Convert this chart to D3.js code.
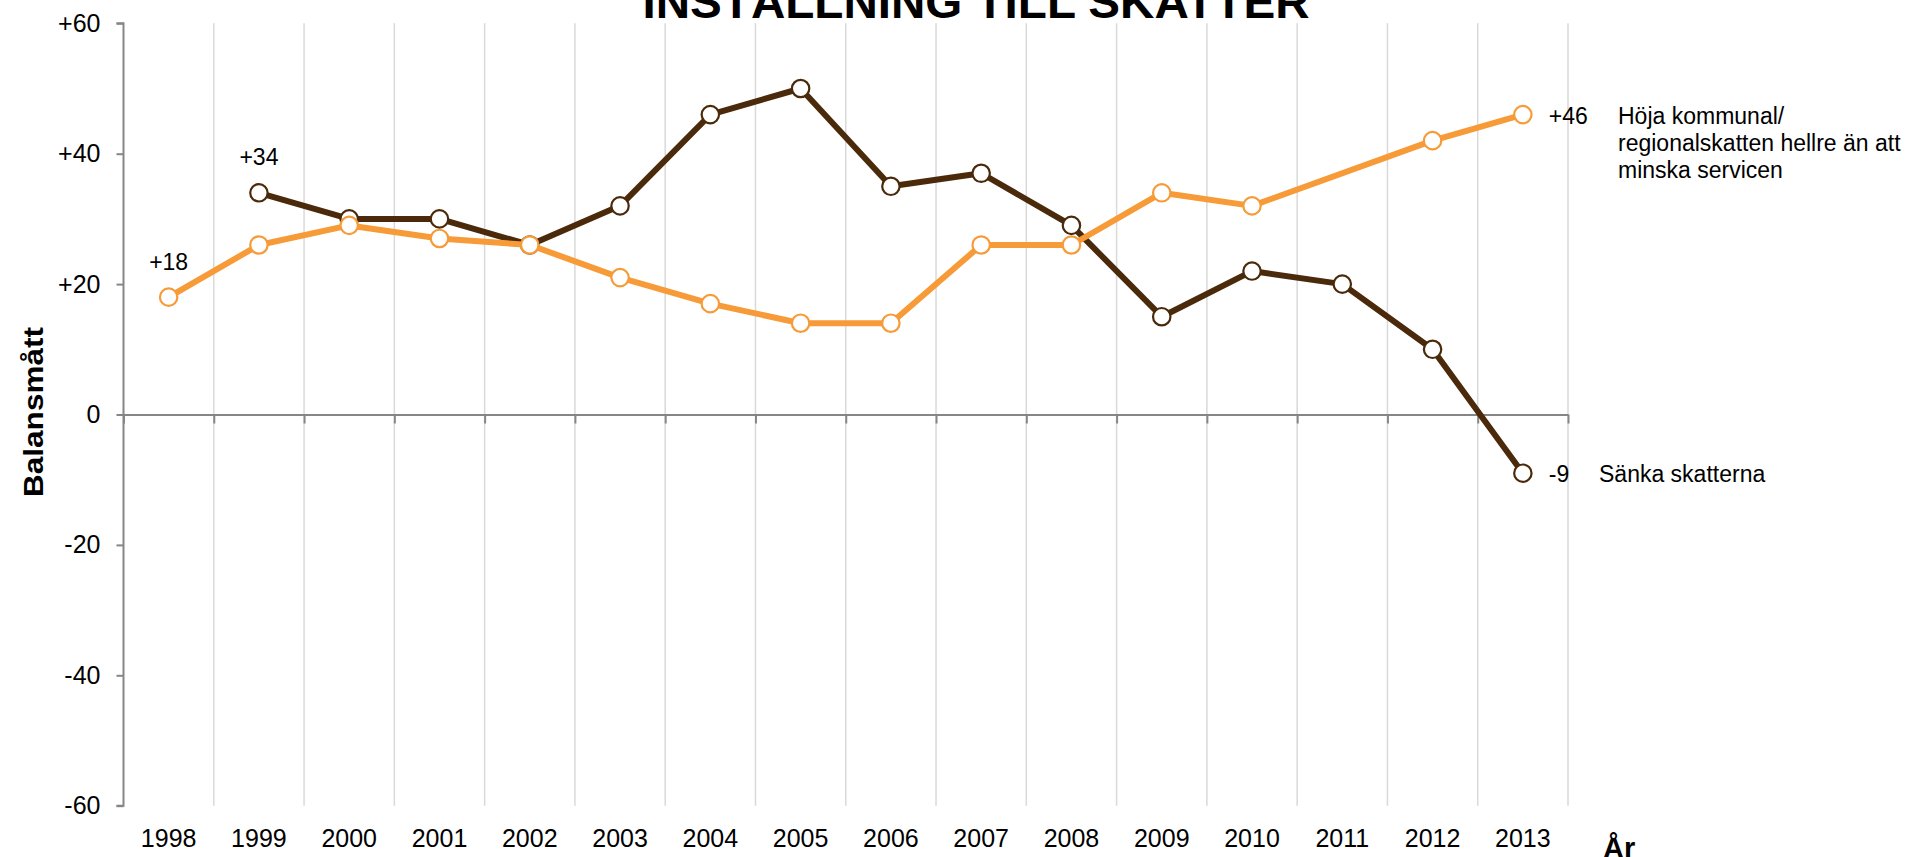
<!DOCTYPE html>
<html>
<head>
<meta charset="utf-8">
<script src="https://cdn.jsdelivr.net/npm/d3@7"></script>
<style>
html,body{margin:0;padding:0;background:#fff;overflow:hidden;}
svg{display:block;font-family:"Liberation Sans",Arial,sans-serif;}
</style>
</head>
<body>
<svg id="chart" width="1917" height="857"></svg>
<script>
const years = ["1998","1999","2000","2001","2002","2003","2004","2005","2006","2007","2008","2009","2010","2011","2012","2013"];
const sankaSkatter = [null,34,30,30,26,32,46,50,35,37,29,15,22,20,10,-9];
const hojaSkatt = [18,26,29,27,26,21,17,14,14,26,26,34,32,null,42,46];
const yTicks = [-60,-40,-20,0,20,40,60];
const titleText = "INSTÄLLNING TILL SKATTER";
const yTitle = "Balansmått";
const xTitle = "År";
const labelHoja = ["Höja kommunal/","regionalskatten hellre än att","minska servicen"];
const labelSanka = "Sänka skatterna";

const ORANGE = "#F79B38", BROWN = "#4A2A0B", AXIS = "#868686", GRID = "#D9D9D9";
const fmt = d => d > 0 ? "+" + d : String(d);

const svg = d3.select("#chart");
const pL = 123.5, pR = 1568, pT = 23.3, pB = 805.7;

const x = d3.scaleBand().domain(years).range([pL, pR]).paddingInner(0).paddingOuter(0);
const xb = d3.scaleLinear().domain([0, years.length]).range([pL, pR]);
const y = d3.scaleLinear().domain([-60, 60]).range([pB, pT]);
const cx = d => x(d) + x.bandwidth() / 2;

// vertical gridlines at category boundaries
svg.append("g")
  .selectAll("line")
  .data(d3.range(1, years.length + 1))
  .join("line")
  .attr("x1", d => xb(d)).attr("x2", d => xb(d))
  .attr("y1", pT).attr("y2", pB)
  .attr("stroke", GRID).attr("stroke-width", 1.5);

// y axis
const yAxis = svg.append("g").attr("transform", `translate(${pL},0)`)
  .call(d3.axisLeft(y).tickValues(yTicks).tickFormat(fmt).tickSize(7).tickPadding(16));
yAxis.selectAll("path,line").attr("stroke", AXIS).attr("stroke-width", 2);
yAxis.select(".domain").attr("d", `M-7,${pT}H0V${pB}H-7`);
yAxis.selectAll("text").attr("font-size", 25).attr("fill", "#000")
  .attr("font-family", "'Liberation Sans',Arial,sans-serif");

// zero line with boundary ticks
const zeroAxis = svg.append("g").attr("transform", `translate(0,${y(0)})`)
  .call(d3.axisBottom(xb).tickValues(d3.range(0, years.length + 1)).tickFormat("").tickSize(9).tickSizeOuter(0));
zeroAxis.selectAll("path,line").attr("stroke", AXIS).attr("stroke-width", 2);

// category labels at bottom
const xAxis = svg.append("g").attr("transform", `translate(0,${pB})`)
  .call(d3.axisBottom(x).tickSize(0).tickPadding(23.5));
xAxis.select(".domain").remove();
xAxis.selectAll("text").attr("font-size", 25).attr("fill", "#000")
  .attr("font-family", "'Liberation Sans',Arial,sans-serif");

// series
function drawSeries(values, color) {
  const pts = years.map((yr, i) => ({yr, v: values[i]})).filter(d => d.v !== null);
  const line = d3.line().x(d => cx(d.yr)).y(d => y(d.v));
  svg.append("path").datum(pts).attr("d", line)
    .attr("fill", "none").attr("stroke", color).attr("stroke-width", 6)
    .attr("stroke-linejoin", "round");
  svg.append("g").selectAll("circle").data(pts).join("circle")
    .attr("cx", d => cx(d.yr)).attr("cy", d => y(d.v)).attr("r", 8.7)
    .attr("fill", "#fff").attr("stroke", color).attr("stroke-width", 2.2);
  return pts;
}
const brownPts = drawSeries(sankaSkatter, BROWN);
const orangePts = drawSeries(hojaSkatt, ORANGE);

// value labels
const lab = svg.append("g").attr("font-size", 23).attr("fill", "#000");
const firstO = orangePts[0], firstB = brownPts[0];
lab.append("text").attr("x", cx(firstO.yr)).attr("y", y(firstO.v) - 27).attr("text-anchor", "middle").text(fmt(firstO.v));
lab.append("text").attr("x", cx(firstB.yr)).attr("y", y(firstB.v) - 28).attr("text-anchor", "middle").text(fmt(firstB.v));
const lastO = orangePts[orangePts.length - 1], lastB = brownPts[brownPts.length - 1];
lab.append("text").attr("x", cx(lastO.yr) + 26).attr("y", y(lastO.v) + 9).text(fmt(lastO.v));
lab.append("text").attr("x", cx(lastB.yr) + 26).attr("y", y(lastB.v) + 9).text(fmt(lastB.v));

// series names
const hoja = lab.append("text").attr("x", 1618).attr("y", y(lastO.v) + 9);
labelHoja.forEach((t, i) => hoja.append("tspan").attr("x", 1618).attr("dy", i === 0 ? 0 : 27).text(t));
lab.append("text").attr("x", 1599).attr("y", y(lastB.v) + 9).text(labelSanka);

// title
svg.append("text").attr("x", 976).attr("y", 18).attr("text-anchor", "middle")
  .attr("font-size", 47).attr("font-weight", "bold").attr("fill", "#000")
  .attr("textLength", 667).attr("lengthAdjust", "spacingAndGlyphs").text(titleText);

// axis titles
svg.append("text").attr("transform", "translate(43,412) rotate(-90)")
  .attr("text-anchor", "middle").attr("font-size", 27).attr("font-weight", "bold")
  .attr("textLength", 170).attr("lengthAdjust", "spacingAndGlyphs").text(yTitle);
svg.append("text").attr("x", 1603).attr("y", 858)
  .attr("font-size", 29).attr("font-weight", "bold").text(xTitle);
</script>
</body>
</html>
